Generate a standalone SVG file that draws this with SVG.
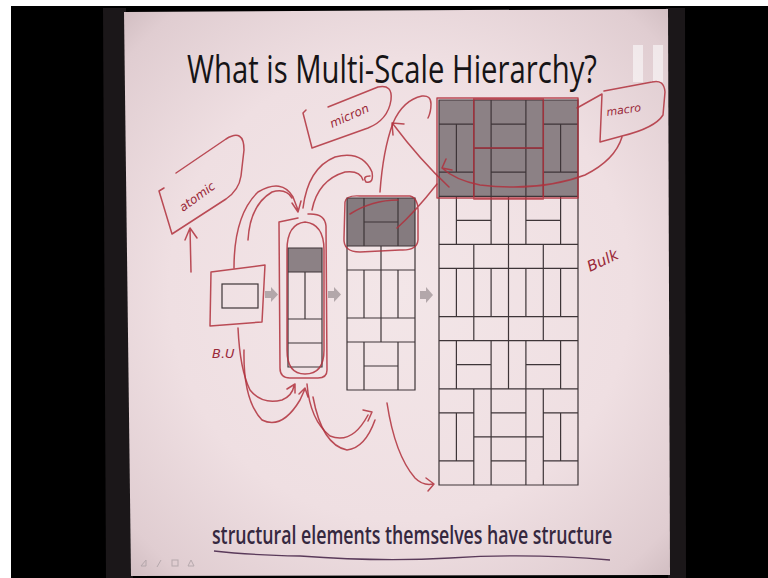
<svg xmlns="http://www.w3.org/2000/svg" width="768" height="578" viewBox="0 0 768 578">
<defs>
<radialGradient id="slideBg" cx="400" cy="290" r="420" gradientUnits="userSpaceOnUse">
<stop offset="0" stop-color="#f3e6e8"/>
<stop offset="0.55" stop-color="#efdfe2"/>
<stop offset="0.85" stop-color="#e0cdd1"/>
<stop offset="1" stop-color="#c6b2b6"/>
</radialGradient>
<style>
.g{fill:none;stroke:#3e3538;stroke-width:1.2}
.dark{fill:#8c8185}
.ink{fill:none;stroke:#b0303c;stroke-width:1.5;stroke-linecap:round;stroke-linejoin:round;opacity:0.85}
.hand{font-family:"DejaVu Sans",sans-serif;font-style:italic;fill:#9a2838}
.garrow{fill:#b3a7aa}
</style>
</defs>
<rect x="0" y="0" width="768" height="578" fill="#000"/>
<rect x="0" y="0" width="768" height="6" fill="#fff"/>
<rect x="0" y="0" width="11" height="578" fill="#fff"/>
<polygon points="103,8 126,8 133,578 106,578" fill="#1b1719"/>
<polygon points="666,8 685,8 686,578 668,578" fill="#1b1719"/>
<polygon id="slide" points="124,12 668,9 670,575 131,576" fill="url(#slideBg)"/>

<g id="title">
<text x="187" y="83" font-family="'Open Sans','Noto Sans',sans-serif" font-size="38" fill="#161416" textLength="410" lengthAdjust="spacingAndGlyphs">What is Multi-Scale Hierarchy?</text>
</g>
<g id="pause" fill="#ffffff" opacity="0.55">
<rect x="633" y="45" width="10" height="37"/>
<rect x="653" y="45" width="10" height="37"/>
</g>

<g id="node-unit">
<rect x="222" y="284" width="36" height="24" class="g"/>
</g>

<g id="node-column">
<rect x="288" y="248" width="34" height="24" class="dark"/>
<path class="g" d="M288,248 H322 V367 H288 Z M288,272 H322 M305,272 V319 M288,319 H322 M288,343 H322"/>
</g>

<g id="node-assembly">
<rect x="347" y="198" width="68" height="48" fill="#857b7f"/>
<path class="g" d="M347,198 H415 V390 H347 Z M347,246 H415 M347,270 H415 M347,318 H415 M347,342 H415 M364,198 V246 M398,198 V246 M364,222 H398 M381,246 V270 M364,270 V318 M381,270 V318 M398,270 V318 M381,318 V342 M364,342 V390 M398,342 V390 M364,366 H398"/>
</g>

<g id="node-bulk">
<rect x="439" y="100" width="139" height="96.3" class="dark"/>
<path class="g" d="M439,100 H578 V485 H439 Z M439,196.3 H578 M439,244.4 H578 M439,268.4 H578 M439,316.6 H578 M439,340.6 H578 M439,388.8 H578
M439,124.1 H473.8 M456.4,124.1 V172.2 M439,172.2 H473.8 M473.8,100 V196.3 M543.3,100 V196.3 M491.1,100 V196.3 M525.9,100 V196.3 M491.1,124.1 H525.9 M473.8,148.1 H543.3 M491.1,172.2 H525.9 M543.3,124.1 H578 M560.6,124.1 V172.2 M543.3,172.2 H578
M456.4,196.3 V244.4 M491.1,196.3 V244.4 M508.5,196.3 V244.4 M525.9,196.3 V244.4 M560.6,196.3 V244.4 M456.4,220.3 H491.1 M525.9,220.3 H560.6
M473.8,244.4 V268.4 M508.5,244.4 V268.4 M543.3,244.4 V268.4
M456.4,268.4 V316.6 M473.8,268.4 V316.6 M491.1,268.4 V316.6 M508.5,268.4 V316.6 M525.9,268.4 V316.6 M543.3,268.4 V316.6 M560.6,268.4 V316.6
M473.8,316.6 V340.6 M508.5,316.6 V340.6 M543.3,316.6 V340.6
M456.4,340.6 V388.8 M491.1,340.6 V388.8 M508.5,340.6 V388.8 M525.9,340.6 V388.8 M560.6,340.6 V388.8 M456.4,364.7 H491.1 M525.9,364.7 H560.6
M439,412.8 H473.8 M456.4,412.8 V460.9 M439,460.9 H473.8 M473.8,388.8 V485 M543.3,388.8 V485 M491.1,388.8 V485 M525.9,388.8 V485 M491.1,412.8 H525.9 M473.8,436.9 H543.3 M491.1,460.9 H525.9 M543.3,412.8 H578 M560.6,412.8 V460.9 M543.3,460.9 H578"/>
</g>

<g id="connectors">
<path class="garrow" d="M265,291 L271,291 L271,287 L278,294.5 L271,302 L271,298 L265,298 Z"/>
<path class="garrow" d="M328,291 L334,291 L334,287 L341,294.5 L334,302 L334,298 L328,298 Z"/>
<path class="garrow" d="M420,291 L426,291 L426,287 L433,295 L426,303 L426,299 L420,299 Z"/>

<path class="ink" d="M211,272 L265,265 L262,322 L210,326 Z"/>
<path class="ink" d="M287,250 Q287,224 305,222 Q324,224 324,250 L324,350 Q324,374 305,374 Q287,374 287,350 Z"/>
<path class="ink" d="M279,222 L298,218 M308,214 Q325,213 326,226 L327,370 Q327,378 318,378 L290,378 Q280,378 280,368 L279,222"/>
<path class="ink" d="M345,202 Q346,195 360,196 L410,196 Q419,198 418,215 L418,240 Q417,251 400,250 L360,252 Q343,252 344,238 Z M350,214 Q372,200 398,200 M397,228 Q415,212 437,184"/>
<path class="ink" d="M437,98 H578 V198 H437 Z M473.8,99 V199 H543.3 V99 Z M473.8,148.1 H543.3" stroke-width="1.6"/>

<path class="ink" d="M164,188 L159,191 L172,234 L226,199 Q239,190 241,176 L244,150 Q244,128 226,139 L176,173"/>
<path class="ink" d="M306,110 L303,113 L312,148 L368,128 Q388,120 391,100 Q393,84 378,87 L328,107"/>
<path class="ink" d="M577,108 L602,94 L600,142 L622,136 Q655,128 663,115 L665,92 Q664,79 652,82 L604,91"/>

<path class="ink" d="M191,272 L190,228 M185,240 L190,228 L197,238"/>
<path class="ink" d="M622,137 Q615,160 585,175 Q540,192 480,185 Q455,180 442,168 M446,159 L442,168 L452,170"/>
<path class="ink" d="M449,187 Q420,160 393,124 M393,135 L392,123 L404,124"/>
<path class="ink" d="M380,192 Q383,150 393,123 Q403,100 422,96 Q431,95 431,104 Q431,112 428,118"/>
<path class="ink" d="M234,268 Q234,215 258,192 Q282,178 293,197 L298,210 M292,203 L298,212 L301,201"/>
<path class="ink" d="M248,240 Q250,205 272,192 Q286,188 292,198"/>
<path class="ink" d="M303,208 Q308,168 335,157 Q362,150 372,172 Q374,184 366,182 Q362,176 370,176"/>
<path class="ink" d="M312,210 Q318,180 345,172 Q360,170 363,180"/>
<path class="ink" d="M238,328 Q240,370 250,390 Q262,405 282,400 Q292,396 294,386 M287,389 L295,384 L295,393"/>
<path class="ink" d="M244,350 Q243,400 262,420 Q282,430 300,400 L305,389 M299,394 L305,388 L308,397"/>
<path class="ink" d="M307,384 Q310,420 330,436 Q352,445 368,415 M363,410 L372,412 L368,421"/>
<path class="ink" d="M313,397 Q322,445 347,450 Q365,448 375,420"/>
<path class="ink" d="M387,403 Q395,455 415,478 Q423,486 433,484 M426,478 L434,484 L428,491"/>
</g>

<g id="labels">
<text class="hand" font-size="12" transform="translate(183,212) rotate(-36)">atomic</text>
<text class="hand" font-size="12" transform="translate(332,128) rotate(-24)">micron</text>
<text class="hand" font-size="11" transform="translate(607,116) rotate(-8)">macro</text>
<text class="hand" font-size="13" x="212" y="358">B.U</text>
<text class="hand" font-size="15" transform="translate(590,272) rotate(-25)">Bulk</text>
</g>

<g id="caption">
<text transform="translate(212,544) scale(0.72,1)" font-family="'Open Sans','Noto Sans',sans-serif" font-size="25" font-weight="600" fill="#35283f" textLength="556" lengthAdjust="spacingAndGlyphs">structural elements themselves have structure</text>
<path d="M214,551 Q250,555 300,556 Q380,562 450,558 Q530,553 610,560" fill="none" stroke="#5a3a5a" stroke-width="1.3"/>
</g>
<g id="controls" fill="none" stroke="#a59a9e" stroke-width="1" opacity="0.7">
<path d="M141,566 L146,560 L146,566 Z"/>
<path d="M157,567 L161,560"/>
<rect x="172" y="560" width="6" height="6"/>
<path d="M188,566 L191,560 L194,566 Z"/>
</g>
</svg>
